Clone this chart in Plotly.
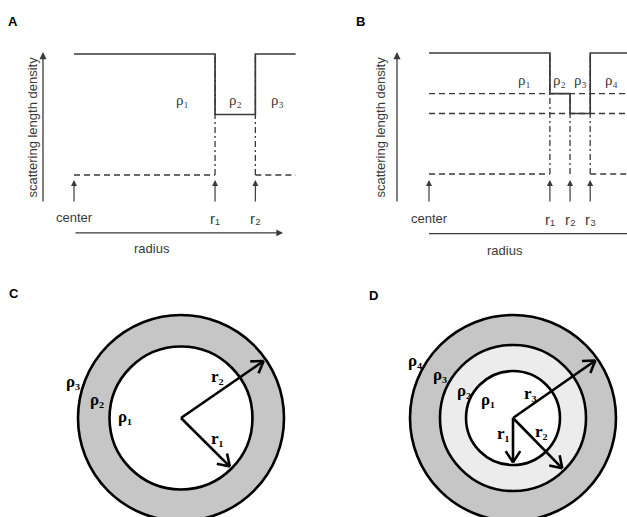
import math
import plotly.graph_objects as go

W, H = 627, 517

# ---------------- data ----------------
# Panel A: scattering-length-density profile of a core-shell particle
A_RADII = [0.0, 3.5, 4.5, 5.5]          # center, r1, r2, outer limit
A_SLD = [2.0, 1.0, 2.0]                 # rho1, rho2, rho3
A_R_LABELS = ["r₁", "r₂"]
A_RHO_LABELS = ["ρ₁", "ρ₂", "ρ₃"]
A_RHO_X = [2.7, 4.0, 5.04]
A_RHO_Y = 1.24

# Panel B: core-shell-shell profile
B_RADII = [0.0, 3.0, 3.5, 4.0, 5.0]     # center, r1, r2, r3, outer limit
B_SLD = [2.0, 1.33, 1.0, 2.0]           # rho1..rho4
B_R_LABELS = ["r₁", "r₂", "r₃"]
B_RHO_LABELS = ["ρ₁", "ρ₂", "ρ₃", "ρ₄"]
B_RHO_X = [2.38, 3.25, 3.75, 4.52]
B_RHO_Y = 1.55

# Panel C: cross-section of the core-shell sphere
C_RADII = [0.694, 1.0]
C_FILLS = ["#ffffff", "#c6c6c6"]
C_ARROW_ANGLES = [-44.8, 34.6]
C_R_LABELS = ["r₁", "r₂"]
C_R_POS = [(0.35, -0.20), (0.35, 0.40)]
C_RHO_LABELS = ["ρ₁", "ρ₂", "ρ₃"]
C_RHO_POS = [(-0.54, 0.01), (-0.82, 0.175), (-1.05, 0.35)]

# Panel D: cross-section of the core-shell-shell sphere
D_RADII = [0.456, 0.709, 1.0]
D_FILLS = ["#ffffff", "#ececec", "#c6c6c6"]
D_ARROW_ANGLES = [-90.0, -45.6, 34.9]
D_R_LABELS = ["r₁", "r₂", "r₃"]
D_R_POS = [(-0.094, -0.15), (0.28, -0.13), (0.165, 0.24)]
D_RHO_LABELS = ["ρ₁", "ρ₂", "ρ₃", "ρ₄"]
D_RHO_POS = [(-0.24, 0.175), (-0.48, 0.27), (-0.71, 0.42), (-0.95, 0.56)]

# ---------------- layout geometry (pixels) ----------------
SX, SY = 40.3, 60.5          # px per radius unit / px per SLD unit (A, B)
A_ORIGIN = (74, 175)
B_ORIGIN = (429, 174)
C_CENTER, C_SCALE = (181, 418), 103.0
D_CENTER, D_SCALE = (513, 418), 103.0
SPLIT_X, SPLIT_Y = 313, 260

LINE = "#3a3a3a"
SANS = "Liberation Sans, Arial, sans-serif"
SERIF = "Liberation Serif, Times New Roman, serif"

fig = go.Figure()


def xr(px0, px1, origin_px, scale):
    return [(px0 - origin_px) / scale, (px1 - origin_px) / scale]


def yr(py_top, py_bot, origin_px, scale):
    return [(origin_px - py_bot) / scale, (origin_px - py_top) / scale]


axes = {
    "": dict(dx=[0, SPLIT_X], dy=[0, SPLIT_Y],
             xr=xr(0, SPLIT_X, A_ORIGIN[0], SX), yr=yr(0, SPLIT_Y, A_ORIGIN[1], SY)),
    "2": dict(dx=[SPLIT_X, W], dy=[0, SPLIT_Y],
              xr=xr(SPLIT_X, W, B_ORIGIN[0], SX), yr=yr(0, SPLIT_Y, B_ORIGIN[1], SY)),
    "3": dict(dx=[0, SPLIT_X], dy=[SPLIT_Y, H],
              xr=xr(0, SPLIT_X, C_CENTER[0], C_SCALE), yr=yr(SPLIT_Y, H, C_CENTER[1], C_SCALE)),
    "4": dict(dx=[SPLIT_X, W], dy=[SPLIT_Y, H],
              xr=xr(SPLIT_X, W, D_CENTER[0], D_SCALE), yr=yr(SPLIT_Y, H, D_CENTER[1], D_SCALE)),
}
for k, a in axes.items():
    common = dict(visible=False, showgrid=False, zeroline=False, fixedrange=True)
    fig.update_layout(**{
        "xaxis" + k: dict(domain=[a["dx"][0] / W, a["dx"][1] / W], range=a["xr"],
                          anchor="y" + k, **common),
        "yaxis" + k: dict(domain=[1 - a["dy"][1] / H, 1 - a["dy"][0] / H], range=a["yr"],
                          anchor="x" + k, **common),
    })

annotations = []


def text(x, y, s, ref, size=13, font=SANS, color=LINE, bold=False, angle=0, xanchor="center"):
    if bold:
        s = "<b>" + s + "</b>"
    annotations.append(dict(x=x, y=y, xref="x" + ref if ref != "paper" else "paper",
                            yref="y" + ref if ref != "paper" else "paper",
                            text=s, showarrow=False, textangle=angle, xanchor=xanchor,
                            yanchor="middle", font=dict(family=font, size=size, color=color)))


def arrow(x0, y0, x1, y1, ref, width=1.2, head=2, size=1.0, color=LINE):
    annotations.append(dict(x=x1, y=y1, ax=x0, ay=y0, xref="x" + ref, yref="y" + ref,
                            axref="x" + ref, ayref="y" + ref, showarrow=True, text="",
                            arrowhead=head, arrowsize=size, arrowwidth=width,
                            arrowcolor=color, standoff=0, startstandoff=0))


def line(x, y, ref, dash="solid", width=1.6, shape="linear"):
    fig.add_trace(go.Scatter(x=x, y=y, mode="lines", xaxis="x" + ref, yaxis="y" + ref,
                             line=dict(color=LINE, width=width, dash=dash, shape=shape),
                             hoverinfo="skip", showlegend=False))


DASH = "6px,4px"
DASHDOT = "6px,3px,2px,3px"


def profile_panel(ref, radii, sld, r_labels, rho_labels, rho_x, rho_y, axis_x,
                  label_x, yb, ytop, radius_arrow_end, radius_label_x, radius_label_y,
                  axis_row_y, levels_full):
    # vertical dash-dot guides at each interface
    for i in range(1, len(radii) - 1):
        line([radii[i], radii[i]], [0, max(sld[i - 1], sld[i])], ref, dash=DASHDOT, width=1.3)
    # dashed horizontal reference levels
    line([radii[0], radii[1]], [0, 0], ref, dash=DASH, width=1.3)
    line([radii[-2], radii[-1]], [0, 0], ref, dash=DASH, width=1.3)
    for lv in levels_full:
        line([radii[0], radii[-1]], [lv, lv], ref, dash=DASH, width=1.3)
    # step profile
    line(radii, list(sld) + [sld[-1]], ref, width=1.7, shape="hv")
    # y-axis arrow and label
    arrow(axis_x, yb, axis_x, ytop, ref, width=1.3, head=2, size=1.1)
    text(label_x, (yb + ytop) / 2, "scattering length density", ref, size=13, angle=-90)
    # small upward markers
    for i in range(0, len(radii) - 1):
        arrow(radii[i], yb, radii[i], yb + 0.38, ref, width=1.2, head=2, size=1.0)
    text(radii[0], axis_row_y, "center", ref, size=13)
    for i, lab in enumerate(r_labels):
        text(radii[i + 1], axis_row_y - 0.03, lab, ref, size=15)
    # radius axis
    if radius_arrow_end is not None:
        arrow(radii[0], radius_label_y + 0.25, radius_arrow_end, radius_label_y + 0.25,
              ref, width=1.2, head=2, size=1.1)
    else:
        line([radii[0], radii[-1]], [radius_label_y + 0.27, radius_label_y + 0.27], ref, width=1.2)
    text(radius_label_x, radius_label_y, "radius", ref, size=13)
    for lab, xx in zip(rho_labels, rho_x):
        text(xx, rho_y, lab, ref, size=15, font=SERIF)


profile_panel("", A_RADII, A_SLD, A_R_LABELS, A_RHO_LABELS, A_RHO_X, A_RHO_Y,
              axis_x=(43 - A_ORIGIN[0]) / SX, label_x=(32 - A_ORIGIN[0]) / SX,
              yb=(A_ORIGIN[1] - 203) / SY, ytop=(A_ORIGIN[1] - 52) / SY,
              radius_arrow_end=(283 - A_ORIGIN[0]) / SX,
              radius_label_x=(152 - A_ORIGIN[0]) / SX,
              radius_label_y=(A_ORIGIN[1] - 248) / SY,
              axis_row_y=(A_ORIGIN[1] - 217) / SY, levels_full=[])

profile_panel("2", B_RADII, B_SLD, B_R_LABELS, B_RHO_LABELS, B_RHO_X, B_RHO_Y,
              axis_x=(397 - B_ORIGIN[0]) / SX, label_x=(380 - B_ORIGIN[0]) / SX,
              yb=(B_ORIGIN[1] - 203) / SY, ytop=(B_ORIGIN[1] - 52) / SY,
              radius_arrow_end=None,
              radius_label_x=(505 - B_ORIGIN[0]) / SX,
              radius_label_y=(B_ORIGIN[1] - 250) / SY,
              axis_row_y=(B_ORIGIN[1] - 218) / SY, levels_full=B_SLD[1:-1])

# ---------------- circle panels ----------------
shapes = []


def circle_panel(ref, radii, fills, angles, r_labels, r_pos, rho_labels, rho_pos):
    for r, f in sorted(zip(radii, fills), reverse=True):
        shapes.append(dict(type="circle", xref="x" + ref, yref="y" + ref,
                           x0=-r, x1=r, y0=-r, y1=r, fillcolor=f, layer="below",
                           line=dict(color="black", width=2.6)))
    xs, ys = [], []
    for r, ang in zip(radii, angles):
        a = math.radians(ang)
        L = r - 0.025
        tx, ty = L * math.cos(a), L * math.sin(a)
        xs += [0, tx, None]
        ys += [0, ty, None]
        for s in (+1, -1):
            b = a + math.pi + s * math.radians(33)
            xs += [tx + 0.13 * math.cos(b), tx, None]
            ys += [ty + 0.13 * math.sin(b), ty, None]
    fig.add_trace(go.Scatter(x=xs, y=ys, mode="lines", xaxis="x" + ref, yaxis="y" + ref,
                             line=dict(color="black", width=2.6), hoverinfo="skip",
                             showlegend=False))
    for lab, (px, py) in zip(r_labels, r_pos):
        text(px, py, lab, ref, size=17, font=SERIF, color="black", bold=True)
    for lab, (px, py) in zip(rho_labels, rho_pos):
        text(px, py, lab, ref, size=17, font=SERIF, color="black", bold=True)


circle_panel("3", C_RADII, C_FILLS, C_ARROW_ANGLES, C_R_LABELS, C_R_POS, C_RHO_LABELS, C_RHO_POS)
circle_panel("4", D_RADII, D_FILLS, D_ARROW_ANGLES, D_R_LABELS, D_R_POS, D_RHO_LABELS, D_RHO_POS)

# panel letters
for letter, (px, py) in {"A": (13, 21), "B": (360, 21), "C": (14, 293), "D": (373, 295)}.items():
    text(px / W, 1 - py / H, letter, "paper", size=13, color="black", bold=True)

fig.update_layout(width=W, height=H, margin=dict(l=0, r=0, t=0, b=0),
                  paper_bgcolor="white", plot_bgcolor="white",
                  annotations=annotations, shapes=shapes, showlegend=False)

fig.write_html("out.html")
